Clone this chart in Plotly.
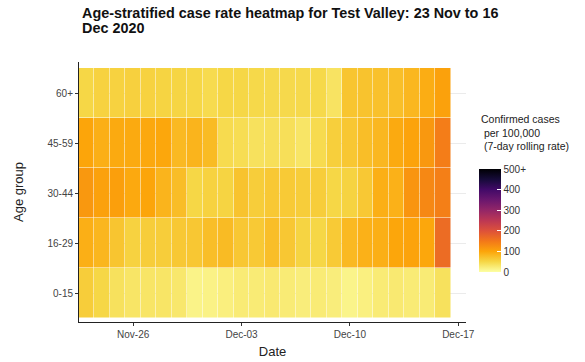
import pandas as pd
import plotly.graph_objects as go

# Daily dates, 23 Nov to 16 Dec 2020
dates = pd.date_range("2020-11-23", "2020-12-16", freq="D")
age_groups = ["0-15", "16-29", "30-44", "45-59", "60+"]

# 7-day rolling case rates per 100,000, one list per age group
rate_0_15 = [60, 50, 38, 33, 33, 33, 30, 15, 16, 20, 25, 25,
             27, 25, 22, 25, 22, 14, 19, 25, 27, 25, 25, 38]
rate_16_29 = [90, 83, 68, 55, 60, 60, 65, 66, 75, 78, 66, 64,
              75, 66, 53, 50, 63, 80, 88, 90, 99, 102, 98, 166]
rate_30_44 = [115, 105, 107, 96, 100, 85, 76, 50, 55, 53, 70, 60,
              65, 63, 60, 60, 50, 54, 65, 90, 88, 118, 132, 142]
rate_45_59 = [100, 90, 95, 95, 97, 98, 80, 85, 78, 45, 43, 38,
              40, 40, 33, 45, 58, 66, 75, 82, 95, 102, 115, 145]
rate_60_plus = [50, 55, 55, 57, 55, 53, 52, 50, 45, 50, 50, 48,
                47, 47, 47, 48, 35, 68, 70, 72, 74, 82, 92, 105]

x_tick_dates = ["2020-11-26", "2020-12-03", "2020-12-10", "2020-12-17"]
x_tick_labels = ["Nov-26", "Dec-03", "Dec-10", "Dec-17"]
cbar_ticks = [0, 100, 200, 300, 400, 500]
cbar_labels = ["0", "100", "200", "300", "400", "500+"]

title_lines = ["Age-stratified case rate heatmap for Test Valley: 23 Nov to 16",
               "Dec 2020"]
legend_title = "Confirmed cases<br>\u00a0per 100,000<br>\u00a0(7-day rolling rate)"

# Reversed inferno palette
inferno = ["#000004", "#160B39", "#420A68", "#6A176E", "#932667", "#BC3754",
           "#DD513A", "#F37819", "#FCA50A", "#F6D746", "#FCFFA4"]
inferno_r = inferno[::-1]
colorscale = [[i / (len(inferno_r) - 1), c] for i, c in enumerate(inferno_r)]

z = [rate_0_15, rate_16_29, rate_30_44, rate_45_59, rate_60_plus]

FONT = "Liberation Sans, Arial, sans-serif"

# plot area in pixels
L, R, T, B = 79, 466, 62, 322
W, H = R - L, B - T


def px_x(p):
    return (p - L) / W


def px_y(p):
    return (B - p) / H


fig = go.Figure(
    go.Heatmap(
        x=dates,
        y=age_groups,
        z=z,
        zmin=0,
        zmax=500,
        colorscale=colorscale,
        xgap=0.5,
        ygap=0.5,
        colorbar=dict(
            x=px_x(479),
            xanchor="left",
            y=px_y(220.5),
            yanchor="middle",
            thickness=22,
            lenmode="pixels",
            len=103,
            ypad=0,
            xpad=0,
            outlinewidth=0,
            tickvals=cbar_ticks,
            ticktext=cbar_labels,
            ticks="inside",
            ticklen=4,
            tickcolor="white",
            tickfont=dict(size=10, color="#333333", family=FONT),
        ),
    )
)

annotations = []
for i, line in enumerate(title_lines):
    annotations.append(dict(
        text="<b>" + line + "</b>",
        xref="paper", yref="paper",
        x=px_x(80), y=px_y(13 + 15 * i),
        xanchor="left", yanchor="middle",
        showarrow=False,
        font=dict(size=14.4, family=FONT, color="#111111"),
    ))
annotations.append(dict(
    text=legend_title,
    xref="paper", yref="paper",
    x=px_x(479), y=px_y(111),
    xanchor="left", yanchor="top",
    align="left",
    showarrow=False,
    font=dict(size=10.5, family=FONT, color="#222222"),
))

fig.update_layout(
    width=585,
    height=362,
    margin=dict(l=L, r=585 - R, t=T, b=362 - B),
    paper_bgcolor="white",
    plot_bgcolor="white",
    font=dict(family=FONT, color="#222222"),
    annotations=annotations,
)

fig.update_xaxes(
    type="date",
    range=["2020-11-22 12:00", "2020-12-17 12:00"],
    tickvals=x_tick_dates,
    ticktext=x_tick_labels,
    showgrid=False,
    zeroline=False,
    showline=True,
    linecolor="#222222",
    linewidth=1,
    ticks="outside",
    ticklen=3,
    tickcolor="#333333",
    tickfont=dict(size=10, color="#444444", family=FONT),
    automargin=False,
    title=dict(text="Date", font=dict(size=13, color="#222222", family=FONT), standoff=7),
)

fig.update_yaxes(
    type="category",
    categoryorder="array",
    categoryarray=age_groups,
    range=[-0.58, 4.62],
    showgrid=True,
    gridcolor="#ebebeb",
    gridwidth=1,
    zeroline=False,
    showline=True,
    linecolor="#222222",
    linewidth=1,
    ticks="outside",
    ticklen=3,
    tickcolor="#333333",
    tickfont=dict(size=10, color="#444444", family=FONT),
    automargin=False,
    title=dict(text="Age group", font=dict(size=13, color="#222222", family=FONT), standoff=20),
)

fig.write_html("out.html")
